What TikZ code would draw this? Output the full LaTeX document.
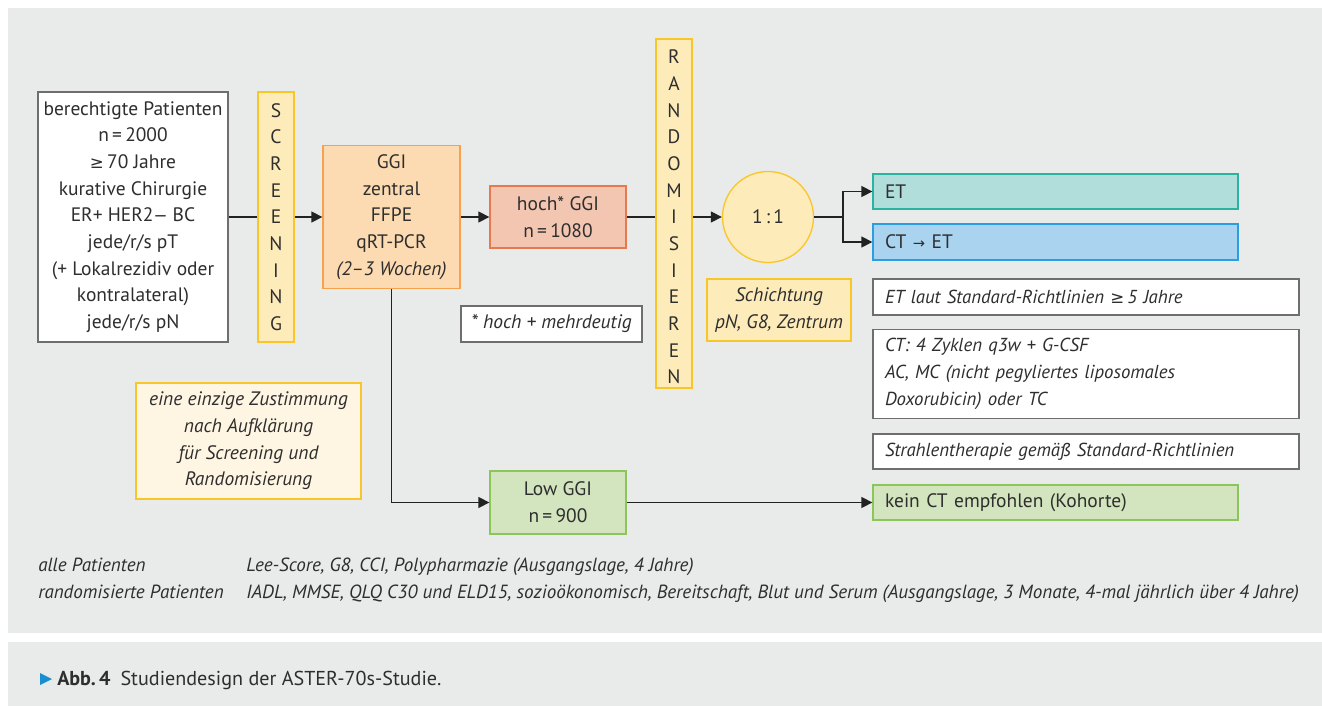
\documentclass[tikz,border=0pt]{standalone}
\usepackage{fontspec}
\setmainfont{PT Sans}
\newfontfamily\symf{DejaVu Sans}
\usetikzlibrary{arrows.meta}
\newdimen\PX \PX=0.75pt
\definecolor{bgc}{HTML}{E9EAEA}
\definecolor{txt}{HTML}{2E2E2E}
\definecolor{grayb}{HTML}{6E6E6E}
\definecolor{linec}{HTML}{222222}
\definecolor{yfill}{HTML}{FDEBB9}
\definecolor{ybord}{HTML}{F9C62A}
\definecolor{cfill}{HTML}{FEF5E3}
\definecolor{ofill}{HTML}{FDDBB2}
\definecolor{obord}{HTML}{F5A24A}
\definecolor{rfill}{HTML}{F3C6B1}
\definecolor{rbord}{HTML}{E8784E}
\definecolor{tfill}{HTML}{B1DEDA}
\definecolor{tbord}{HTML}{2BB3A2}
\definecolor{bfill}{HTML}{AAD3EF}
\definecolor{bbord}{HTML}{2A9FE0}
\definecolor{gfill}{HTML}{D3E5BF}
\definecolor{gbord}{HTML}{8CC65A}
\definecolor{capblue}{HTML}{1A8FD0}
\newcommand\mygeq{{\symf\fontsize{12.5}{20}\selectfont\upshape ≥}}
\tikzset{
  box/.style={draw, line width=1.3\PX, inner sep=0pt, text=txt, align=center},
  graybox/.style={box, draw=grayb, fill=white},
  ybox/.style={box, draw=ybord, fill=yfill},
  lbox/.style={inner xsep=12\PX, inner ysep=0pt, align=left},
  conn/.style={draw=linec, line width=1.4\PX},
  arr/.style={conn, -{Triangle[length=8.25pt,width=8.25pt]}},
  itx/.style={font=\fontsize{14.6}{20}\selectfont\itshape},
  itr/.style={font=\fontsize{14.1}{20}\selectfont\itshape},
}
\begin{document}
\begin{tikzpicture}[x=0.75pt,y=-0.75pt, font=\fontsize{14.6}{20}\selectfont, text=txt]
\useasboundingbox (0,0) rectangle (1322,706);
\fill[white] (0,0) rectangle (1322,706);
\fill[bgc] (8,8) rectangle (1322,633);
\fill[bgc] (8,642) rectangle (1322,706);

% left column
\node[graybox, minimum width=190\PX, minimum height=250\PX] (elig) at (133,217)
  {berechtigte Patienten\\n\,=\,2000\\\mygeq\,70 Jahre\\kurative Chirurgie\\ER+ HER2{\symf\fontsize{12.5}{20}\selectfont −} BC\\jede/r/s pT\\(+ Lokalrezidiv oder\\kontralateral)\\jede/r/s pN};
\node[ybox, minimum width=36\PX, minimum height=250\PX] (scr) at (276,217)
  {S\\C\\R\\E\\E\\N\\I\\N\\G};
\node[box, draw=obord, fill=ofill, minimum width=137\PX, minimum height=143\PX] (ggi) at (391.5,217)
  {GGI\\zentral\\FFPE\\qRT-PCR\\\textit{(2–3 Wochen)}};
\node[box, draw=rbord, fill=rfill, minimum width=136\PX, minimum height=62\PX] (hoch) at (558,217)
  {hoch* GGI\\n\,=\,1080};
\node[graybox, minimum width=181\PX, minimum height=36\PX, itx] (foot) at (551.5,324)
  {* hoch + mehrdeutig};
\node[ybox, minimum width=36\PX, minimum height=349\PX] (rand) at (674,213.5) {};
\node[align=center, inner sep=0pt] (randtxt) at (674,217)
  {R\\A\\N\\D\\O\\M\\I\\S\\I\\E\\R\\E\\N};
\node[box, circle, draw=ybord, fill=yfill, minimum size=91\PX] (ratio) at (768,217) {1\,:\,1};
\node[ybox, minimum width=144\PX, minimum height=62\PX, itx] (strat) at (779,310)
  {Schichtung\\pN, G8, Zentrum};
\node[box, draw=ybord, fill=cfill, minimum width=225\PX, minimum height=116\PX, itx] (consent) at (248.5,441)
  {eine einzige Zustimmung\\nach Aufklärung\\für Screening und\\Randomisierung};
\node[box, draw=gbord, fill=gfill, minimum width=136\PX, minimum height=63\PX] (low) at (558,502.5)
  {Low GGI\\n\,=\,900};

% right column
\node[box, lbox, draw=tbord, fill=tfill, text width=341\PX, minimum height=35\PX] (et) at (1055.5,191.5) {ET};
\node[box, lbox, draw=bbord, fill=bfill, text width=341\PX, minimum height=36\PX] (ctet) at (1055.5,242)
  {CT {\symf\fontsize{11}{20}\selectfont →} ET};
\node[graybox, lbox, text width=402\PX, minimum height=36\PX, itr] (etstd) at (1086,297)
  {ET laut Standard-Richtlinien \mygeq\,5 Jahre};
\node[graybox, lbox, text width=402\PX, minimum height=89\PX, itr] (ct) at (1086,374)
  {CT: 4 Zyklen q3w + G-CSF\\AC, MC (nicht pegyliertes liposomales\\Doxorubicin) oder TC};
\node[graybox, lbox, text width=402\PX, minimum height=35\PX, itr] (rt) at (1086,451.5)
  {Strahlentherapie gemäß Standard-Richtlinien};
\node[box, lbox, draw=gbord, fill=gfill, text width=341\PX, minimum height=35\PX] (kein) at (1055.5,502.5)
  {kein CT empfohlen (Kohorte)};

% connectors
\draw[conn] (elig.east) -- (scr.west);
\draw[arr] (scr.east) -- (ggi.west);
\draw[arr] (ggi.east) -- (hoch.west);
\draw[conn] (hoch.east) -- (hoch.east -| rand.west);
\draw[arr] (rand.east |- ratio) -- (ratio.west);
\coordinate (split) at (843,217);
\draw[conn] (ratio.east) -- (split);
\draw[arr] (split) |- (et.west);
\draw[arr] (split) |- (ctet.west);
\draw[arr] (ggi.south) |- (low.west);
\draw[arr] (low.east) -- (kein.west);

% bottom notes
\begin{scope}[every node/.style={anchor=base west, inner sep=0pt, font=\fontsize{14.3}{20}\selectfont\itshape}]
\node (n1a) at (38,571) {alle Patienten};
\node (n1b) at (246,571) {Lee-Score, G8, CCI, Polypharmazie (Ausgangslage, 4 Jahre)};
\node (n2a) at (38,598) {randomisierte Patienten};
\node (n2b) at (246,598) {IADL, MMSE, QLQ C30 und ELD15, sozioökonomisch, Bereitschaft, Blut und Serum (Ausgangslage, 3 Monate, 4-mal jährlich über 4 Jahre)};
\end{scope}

% caption
\fill[capblue] (40,673) -- (52,679) -- (40,685) -- cycle;
\node[anchor=base west, inner sep=0pt, font=\fontsize{15.1}{20}\selectfont] (cap) at (57,685)
  {\textbf{Abb.\,4}\hspace{10\PX}Studiendesign der ASTER-70s-Studie.};
\end{tikzpicture}
\end{document}
